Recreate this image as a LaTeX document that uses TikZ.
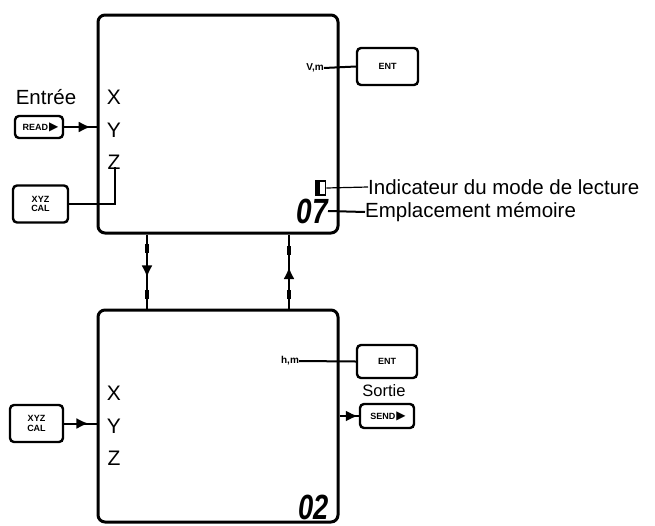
\documentclass[tikz,border=0pt]{standalone}
\usepackage{fontspec}
\setmainfont{Liberation Sans}
\newfontfamily\symfont{DejaVu Sans}
\usetikzlibrary{arrows.meta,decorations.markings,calc}
\begin{document}
\begin{tikzpicture}[x=1pt,y=-1pt,
  screen/.style={draw, line width=3pt, rounded corners=7pt, inner sep=0pt},
  keybox/.style={draw, line width=2.4pt, rounded corners=4pt, inner sep=0pt, align=center,
                 font=\bfseries\fontsize{9}{9.5}\selectfont},
  lbl/.style={inner sep=0pt, font=\fontsize{20.5}{24}\selectfont},
  axislbl/.style={inner sep=0pt, font=\fontsize{21}{24}\selectfont},
  unitlbl/.style={inner sep=0pt, font=\bfseries\fontsize{10}{11}\selectfont},
  conn/.style={line width=2pt},
  midarrow/.style={postaction={decorate}, decoration={markings,
     mark=at position #1 with {\arrow{Latex[length=12pt,width=11pt]}}}},
  blk/.style={fill, inner sep=0pt, minimum width=4.5pt, minimum height=9pt},
  digits/.style={inner sep=0pt, font=\bfseries\itshape\fontsize{35}{35}\selectfont},
]
\useasboundingbox (0,0) rectangle (655,525);

% screens
\node[screen, minimum width=240pt, minimum height=218pt] (top) at (218,124) {};
\node[screen, minimum width=240pt, minimum height=212pt] (bot) at (218,416) {};

% links between screens
\coordinate (cL) at (147,0);
\coordinate (cR) at (289,0);
\draw[conn, midarrow=0.58] (top.south -| cL) -- (bot.north -| cL);
\draw[conn, midarrow=0.56] (bot.north -| cR) -- (top.south -| cR);
\node[blk] (bL1) at (147,248) {};
\node[blk] (bL2) at (147,294) {};
\node[blk] (bR1) at (289,250) {};
\node[blk] (bR2) at (289,294) {};

% ---- top screen ----
\node[axislbl] (Xt) at (114,97) {X};
\node[axislbl] (Yt) at (114,130) {Y};
\node[axislbl] (Zt) at (114,162) {Z};

\node[lbl] (entree) at (46,97) {Entrée};
\node[keybox, minimum width=48pt, minimum height=22pt] (kRead) at (39,127)
  {\hspace*{3pt}READ\hspace{1pt}{\symfont\fontsize{12}{12}\selectfont ▶}};
\draw[conn, midarrow=0.82] (kRead.east) -- (top.west |- kRead.east);

\node[keybox, minimum width=55pt, minimum height=37pt] (kXYZa) at (40.5,204) {XYZ\\CAL};
\draw[conn] (kXYZa.east) -| ($(Zt.south)+(1,-2)$);

\node[unitlbl] (vm) at (315,68) {V,m};
\node[keybox, minimum width=61pt, minimum height=37pt] (kENTa) at (387.5,66.5) {ENT};
\draw[conn] (vm.east) -- (kENTa.west);

\node[draw, line width=1.6pt, inner sep=0pt, minimum width=10pt, minimum height=14pt,
      path picture={\fill (path picture bounding box.south west) rectangle
                    ($(path picture bounding box.north west)+(4,0)$);}] (ind) at (320.5,188) {};
\node[lbl, anchor=west] (indtxt) at (368,187) {Indicateur du mode de lecture};
\draw[line width=1.2pt] (ind.east) -- (indtxt.west);

\node[digits, anchor=east] (d07) at (328,211) {\scalebox{0.8}[1]{07}};
\node[lbl, anchor=west] (emptxt) at (365,212) {Emplacement mémoire};
\draw[conn] (d07.east) -- (emptxt.west);

% ---- bottom screen ----
\node[axislbl] (Xb) at (114,393) {X};
\node[axislbl] (Yb) at (114,426) {Y};
\node[axislbl] (Zb) at (114,458) {Z};

\node[keybox, minimum width=53pt, minimum height=37pt] (kXYZb) at (36.5,423.5) {XYZ\\CAL};
\draw[conn, midarrow=0.75] (kXYZb.east) -- (bot.west |- kXYZb.east);

\node[unitlbl] (hm) at (290,361) {h,m};
\node[keybox, minimum width=60pt, minimum height=33pt] (kENTb) at (387,361.5) {ENT};
\draw[conn] (hm.east) -- (kENTb.west);

\node[inner sep=0pt, font=\fontsize{16.5}{18}\selectfont] (sortie) at (384,391) {Sortie};
\node[keybox, minimum width=54pt, minimum height=24pt] (kSend) at (387,416)
  {\hspace*{2pt}SEND\hspace{1pt}{\symfont\fontsize{12}{12}\selectfont ▶}};
\draw[conn, midarrow=0.95] (bot.east |- kSend.west) -- (kSend.west);

\node[digits, anchor=east] (d02) at (329,507) {\scalebox{0.78}[1]{02}};
\end{tikzpicture}
\end{document}
